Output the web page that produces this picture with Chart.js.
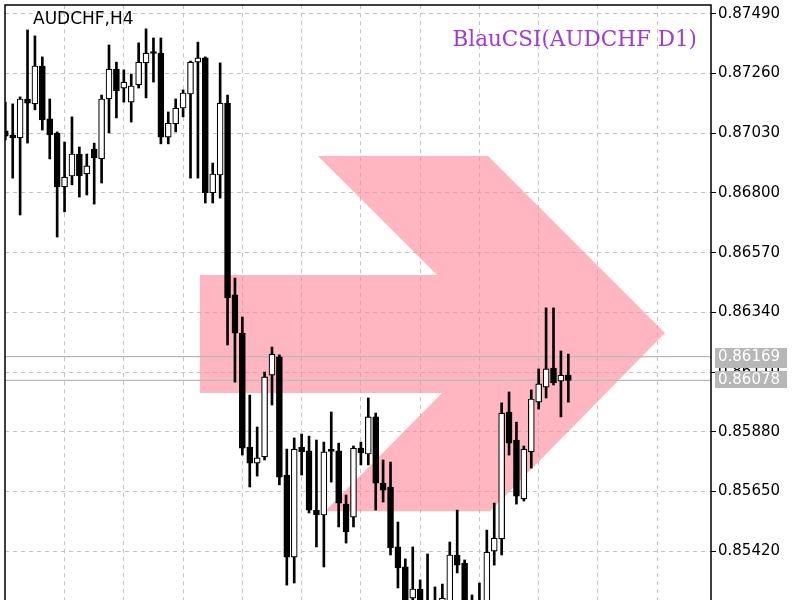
<!DOCTYPE html>
<html><head><meta charset="utf-8">
<script src="https://cdn.jsdelivr.net/npm/chart.js@4"></script>
<style>
html,body{margin:0;padding:0;background:#fff;overflow:hidden;width:800px;height:600px}
#wrap{position:relative;width:800px;height:630px}
canvas{display:block}
.lbl{position:absolute;white-space:nowrap}
#sym{left:33px;top:8px;font:17px "DejaVu Sans";color:#000}
#ind{right:103px;top:26px;font:21.5px "DejaVu Serif";color:#a23ad6}
</style></head><body>
<div id="wrap"><canvas id="c" width="800" height="630"></canvas>
<div id="sym" class="lbl">AUDCHF,H4</div>
<div id="ind" class="lbl">BlauCSI(AUDCHF D1)</div>
</div>
<script>
// H4 candles (index 0 = leftmost visible bar)
const opens=[0.87039,0.87023,0.87012,0.87162,0.87143,0.87289,0.87085,0.87031,0.86823,0.86865,
0.86950,0.86873,0.86969,0.86931,0.87162,0.87277,0.87204,0.87150,0.87216,0.87301,
0.87340,0.87339,0.87015,0.87066,0.87127,0.87181,0.87304,0.87320,0.86800,0.86869,
0.87146,0.86407,0.86260,0.85821,0.85759,0.85783,0.86098,0.86168,0.85713,0.85397,
0.85821,0.85806,0.85578,0.85559,0.85806,0.85806,0.85601,0.85551,0.85817,0.85794,
0.85937,0.85682,0.85667,0.85436,0.85359,0.85239,0.85274,0.85178,0.85220,0.85201,
0.85208,0.85405,0.85374,0.85220,0.85193,0.85220,0.85420,0.85467,0.85956,0.85848,
0.85621,0.85802,0.85994,0.86052,0.86125,0.86075,0.86098];
const highs=[0.87150,0.87143,0.87170,0.87428,0.87405,0.87324,0.87162,0.87035,0.86996,0.87093,
0.86977,0.86950,0.86992,0.87177,0.87370,0.87304,0.87274,0.87258,0.87378,0.87432,
0.87397,0.87397,0.87112,0.87162,0.87197,0.87308,0.87381,0.87324,0.86915,0.87301,
0.87177,0.86472,0.86322,0.86021,0.85898,0.86110,0.86206,0.86176,0.85813,0.85856,
0.85871,0.85863,0.85848,0.85840,0.85956,0.85836,0.85636,0.85825,0.85840,0.86010,
0.85952,0.85771,0.85763,0.85532,0.85390,0.85436,0.85309,0.85409,0.85282,0.85293,
0.85455,0.85578,0.85386,0.85251,0.85297,0.85501,0.85605,0.85991,0.86033,0.85917,
0.85825,0.86041,0.86122,0.86357,0.86357,0.86191,0.86179];
const lows=[0.87004,0.86857,0.86715,0.86992,0.87120,0.87042,0.86931,0.86630,0.86727,0.86831,
0.86784,0.86792,0.86757,0.86838,0.87031,0.87089,0.87150,0.87073,0.87204,0.87166,
0.87227,0.86989,0.86989,0.87035,0.87093,0.86857,0.86857,0.86761,0.86761,0.86780,
0.86214,0.86071,0.85790,0.85667,0.85709,0.85771,0.85983,0.85675,0.85289,0.85297,
0.85713,0.85567,0.85436,0.85359,0.85686,0.85513,0.85451,0.85513,0.85752,0.85752,
0.85578,0.85609,0.85405,0.85278,0.85135,0.85174,0.85154,0.85147,0.85154,0.85170,
0.85185,0.85336,0.85185,0.85162,0.85174,0.85201,0.85366,0.85405,0.85790,0.85601,
0.85613,0.85740,0.85967,0.86010,0.86060,0.85937,0.85994];
const closes=[0.87019,0.87012,0.87162,0.87146,0.87289,0.87081,0.87023,0.86823,0.86861,0.86950,
0.86865,0.86904,0.86935,0.87162,0.87277,0.87193,0.87227,0.87212,0.87304,0.87339,
0.87337,0.87015,0.87069,0.87127,0.87185,0.87304,0.87320,0.86800,0.86873,0.87146,
0.86395,0.86260,0.85817,0.85759,0.85779,0.86091,0.86179,0.85705,0.85397,0.85813,
0.85802,0.85578,0.85559,0.85802,0.85804,0.85605,0.85494,0.85817,0.85798,0.85937,
0.85682,0.85655,0.85432,0.85355,0.85193,0.85274,0.85185,0.85224,0.85185,0.85239,
0.85405,0.85366,0.85216,0.85193,0.85224,0.85416,0.85470,0.85952,0.85836,0.85632,
0.85813,0.86006,0.86064,0.86122,0.86068,0.86098,0.86078];
// price axis tick labels
const yTicks=[0.87490,0.87260,0.87030,0.86800,0.86570,0.86340,0.86110,0.85880,0.85650,0.85420,0.85190];
// horizontal price levels (labelled on the axis)
const levelLines=[0.86169,0.86078];
// vertical grid positions (bar index)
const xGridIdx=[8,16,24,32,40,48,56,64,72,80,88];
// arrow object, in (bar index, price)
const arrowX=[26.28,58.28,42.21,65.16,89.05,65.43,43.16,58.95,26.28,26.28];
const arrowY=[0.86484,0.86484,0.86942,0.86942,0.86260,0.85574,0.85574,0.86029,0.86029,0.86484];

const xMin=-0.04, xMax=95.26, yMin=0.85116, yMax=0.87524;
const FONT='"DejaVu Sans"';

const idx=opens.map((_,i)=>i);
const wickData=idx.map(i=>({x:i,y:[lows[i],highs[i]]}));
const bodyData=idx.map(i=>({x:i,y:[opens[i],closes[i]]}));
const arrowData=arrowX.map((x,i)=>({x:x,y:arrowY[i]}));
const levelSets=levelLines.map(v=>({
  type:'line',data:[{x:xMin,y:v},{x:xMax,y:v}],
  borderColor:'#b9b9b9',borderWidth:1.3,pointRadius:0,order:5
}));

const overlay={
  id:'overlay',
  afterDraw(chart){
    const {ctx,chartArea:a,scales:{y}}=chart;
    ctx.save();
    ctx.font='15px '+FONT;
    ctx.textBaseline='middle';ctx.textAlign='left';
    levelLines.forEach((v,k)=>{
      const py=Math.round(y.getPixelForValue(v));
      ctx.fillStyle='#b7b7b7';
      if(k===0) ctx.fillRect(a.right+4,py-9,72,20);
      else ctx.fillRect(a.right+4,py-9,72,17);
      ctx.fillStyle='#ffffff';
      ctx.fillText(v.toFixed(5),a.right+7,py);
    });
    ctx.strokeStyle='#000';ctx.lineWidth=1.5;
    ctx.beginPath();
    ctx.moveTo(a.left,a.bottom+5);ctx.lineTo(a.left,a.top);
    ctx.lineTo(a.right,a.top);ctx.lineTo(a.right,a.bottom+5);
    ctx.stroke();
    ctx.restore();
  }
};

new Chart(document.getElementById('c'),{
  type:'bar',
  data:{datasets:[
    {type:'line',data:arrowData,fill:'shape',backgroundColor:'rgba(255,133,152,0.6)',
     borderColor:'rgba(0,0,0,0)',borderWidth:0,pointRadius:0,tension:0,order:10},
    ...levelSets,
    {type:'bar',data:wickData,backgroundColor:'#000',borderWidth:0,barThickness:2,grouped:false,order:2},
    {type:'bar',data:bodyData,
     backgroundColor:c=>closes[c.dataIndex]>=opens[c.dataIndex]?'#ffffff':'#000000',
     borderColor:'#000',borderWidth:1.2,borderSkipped:false,barThickness:6,minBarLength:2,grouped:false,order:1}
  ]},
  options:{
    responsive:false,animation:false,
    layout:{padding:{left:5,top:5,right:0,bottom:0}},
    plugins:{legend:{display:false},tooltip:{enabled:false},title:{display:false}},
    scales:{
      x:{type:'linear',min:xMin,max:xMax,offset:false,
        afterBuildTicks:s=>{s.ticks=xGridIdx.map(v=>({value:v}));},
        afterFit:s=>{s.height=0;s.paddingLeft=0;s.paddingRight=0;},
        grid:{color:'#c3c3c3',lineWidth:1,drawTicks:false,offset:false},
        border:{display:false,dash:[4,4]},
        ticks:{display:false}},
      y:{type:'linear',position:'right',min:yMin,max:yMax,
        afterBuildTicks:s=>{s.ticks=yTicks.map(v=>({value:v}));},
        afterFit:s=>{s.width=89;s.paddingTop=0;s.paddingBottom=0;},
        grid:{color:'#c3c3c3',lineWidth:1,tickColor:'#000',tickLength:5,tickWidth:1,tickBorderDash:[]},
        border:{display:false,dash:[4,4]},
        ticks:{color:'#000',font:{family:'DejaVu Sans',size:15},padding:2,callback:v=>Number(v).toFixed(5)}}
    }
  },
  plugins:[overlay]
});
</script>
</body></html>
